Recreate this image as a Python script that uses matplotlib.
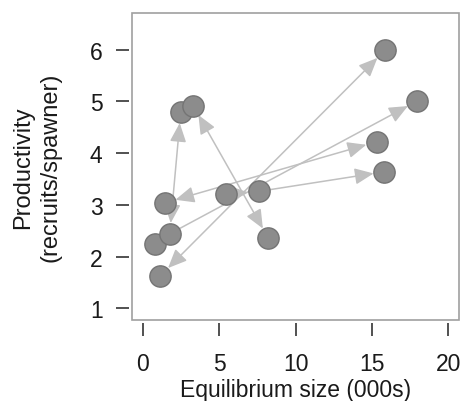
import matplotlib
matplotlib.use("Agg")
import matplotlib.pyplot as plt
from matplotlib.patches import Rectangle

plt.rcParams['font.family'] = ['Liberation Sans', 'DejaVu Sans']

# equilibrium size (000s) and productivity (recruits/spawner)
eq_size = [15.85, 17.97, 15.30, 15.80, 2.47, 3.28, 5.42, 7.57, 8.20, 1.44, 0.77, 1.75, 1.14]
productivity = [5.99, 5.01, 4.22, 3.64, 4.79, 4.92, 3.21, 3.26, 2.36, 3.04, 2.24, 2.44, 1.63]

# arrows between points (indices), and whether both ends get a head
arrow_from = [12, 9, 5, 4, 11, 7, 6]
arrow_to = [0, 2, 8, 11, 1, 3, 7]
both_heads = [True, True, True, True, False, False, False]

x_ticks = [0, 5, 10, 15, 20]
y_ticks = [1, 2, 3, 4, 5, 6]

fig = plt.figure(figsize=(4.61, 4.02), dpi=100)
ax = fig.add_axes([0.2863, 0.2015, 0.7094, 0.7637])

for i0, i1, both in zip(arrow_from, arrow_to, both_heads):
    style = '<|-|>' if both else '-|>'
    ax.annotate('', xy=(eq_size[i1], productivity[i1]),
                xytext=(eq_size[i0], productivity[i0]),
                arrowprops=dict(arrowstyle=style + ',head_length=1.15,head_width=0.5',
                                mutation_scale=10, color='#c0c0c0', lw=1.1,
                                shrinkA=7.8, shrinkB=7.8),
                zorder=1)

ax.scatter(eq_size, productivity, s=235, c='#8c8c8c', edgecolors='#747474',
           linewidths=1.0, zorder=3)

ax.set_xlim(-0.72, 20.69)
ax.set_ylim(0.774, 6.71)
ax.set_xticks(x_ticks)
ax.set_yticks(y_ticks)

for side in ['left', 'bottom']:
    ax.spines[side].set_position(('outward', 2))
for sp in ax.spines.values():
    sp.set_visible(False)
ax.add_patch(Rectangle((0, 0), 1, 1, transform=ax.transAxes, fill=False,
                       edgecolor='#a0a0a0', lw=1.2, clip_on=False, zorder=5))

ax.tick_params(axis='both', length=9.2, width=1.1, color='#222222',
               labelsize=16.5, labelcolor='#1a1a1a')
ax.tick_params(axis='x', pad=12)
ax.tick_params(axis='y', pad=10)

ax.set_xlabel('Equilibrium size (000s)', fontsize=16.5, color='#1a1a1a', labelpad=2)
fig.text(0.080, 0.583, 'Productivity\n(recruits/spawner)', fontsize=17, color='#1a1a1a',
         rotation=90, ha='center', va='center', multialignment='center',
         linespacing=1.3)

fig.savefig('out.png', dpi=100)
